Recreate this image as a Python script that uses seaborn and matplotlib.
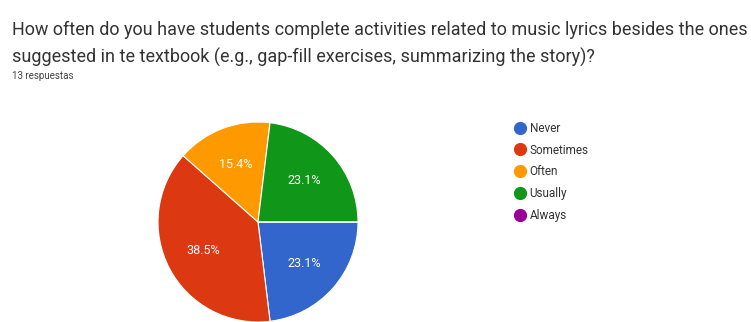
import matplotlib
matplotlib.use("Agg")
import matplotlib.pyplot as plt
from matplotlib.lines import Line2D
import seaborn as sns

sns.set_theme(style="white")
plt.rcParams['font.family'] = ['Roboto', 'DejaVu Sans']

title_lines = ["How often do you have students complete activities related to music lyrics besides the ones",
               "suggested in te textbook (e.g., gap-fill exercises, summarizing the story)?"]
subtitle = "13 respuestas"
categories = ["Never", "Sometimes", "Often", "Usually", "Always"]
counts = [3, 5, 2, 3, 0]
colors = ["#3366cc", "#dc3912", "#ff9900", "#109618", "#990099"]

fig = plt.figure(figsize=(7.51, 3.22), dpi=100)
fig.patch.set_facecolor("white")

fig.text(12/751, 1 - 30/322, title_lines[0], fontsize=12.95, color="#333333", va="center", ha="left")
fig.text(12/751, 1 - 57/322, title_lines[1], fontsize=12.95, color="#333333", va="center", ha="left")
fig.text(12/751, 1 - 76/322, subtitle, fontsize=7, color="#444444", va="center", ha="left")

ax = fig.add_axes([158/751, 0/322, 200/751, 200/322])
def fmt(p):
    return f"{p:.1f}%" if p > 0 else ""
wedges, texts, autotexts = ax.pie(counts, colors=colors, startangle=0, counterclock=False,
                                  autopct=fmt, pctdistance=0.62,
                                  wedgeprops=dict(edgecolor="white", linewidth=0.8),
                                  textprops=dict(color="white", fontsize=9))
ax.set_xlim(-1.0, 1.0)
ax.set_ylim(-1.0, 1.0)
ax.set_aspect("equal")
ax.axis("off")

handles = [Line2D([0], [0], marker="o", linestyle="", markersize=8.5, markerfacecolor=c,
                  markeredgecolor=c) for c in colors]
leg = fig.legend(handles, categories, loc="upper left", bbox_to_anchor=(509/751, 1 - 117/322),
                 frameon=False, fontsize=8.5, labelspacing=0.75, handletextpad=0.35,
                 handlelength=1.0, borderaxespad=0)
for t in leg.get_texts():
    t.set_color("#333333")

fig.savefig("out.png", dpi=100, facecolor="white")
